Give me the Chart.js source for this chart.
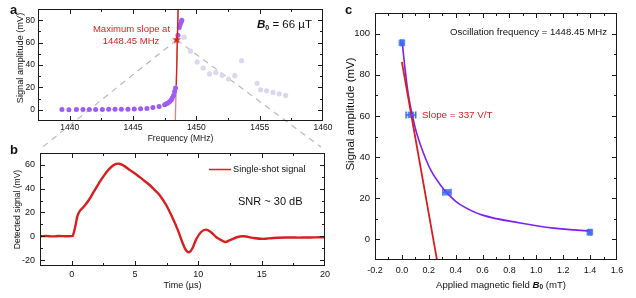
<!DOCTYPE html>
<html><head><meta charset="utf-8">
<script src="https://cdn.jsdelivr.net/npm/chart.js@4.4.1/dist/chart.umd.min.js"></script>
<style>
html,body{margin:0;padding:0;background:#fff;}
#wrap{position:relative;width:636px;height:298px;overflow:hidden;background:#fff;}
canvas{position:absolute;}
</style></head><body>
<div id="wrap">
<canvas id="ca" width="336" height="150" style="left:0;top:0"></canvas>
<canvas id="cb" width="336" height="158" style="left:0;top:140px"></canvas>
<canvas id="cc" width="306" height="298" style="left:330px;top:0"></canvas>
</div>
<script>
// ---------------- DATA ----------------
// Panel a: oscillation amplitude vs frequency
const freqBright = [1439.39,1439.94,1440.53,1441.05,1441.55,1442.05,1442.58,1443.08,1443.58,1444.08,1444.6,1445.1,1445.6,1446.1,1446.57,1447.06,1447.5,1447.63,1447.76,1447.9,1448.03,1448.1,1448.2,1448.28,1448.36,1448.55,1448.65,1448.72,1448.8,1448.85];
const ampBright  = [0.2,0.1,0.2,0.3,0.3,0.2,0.3,0.4,0.4,0.5,0.6,0.7,0.9,1.2,2.0,3.0,4.5,5.4,6.0,7.5,9.0,10.5,12.8,16.4,19.4,66.5,73.5,76,78.5,80];
const freqFaint  = [1449.03,1449.54,1450.06,1450.54,1451.04,1451.54,1452.04,1452.54,1453.04,1453.57,1454.8,1455.07,1455.55,1456.05,1456.54,1457.05];
const ampFaint   = [64.8,52.3,42.7,37.3,32,33.2,30.8,27.5,30.5,43.9,23.6,17.9,17,15.5,14.3,12.8];
const slopeFreqA = [1448.34,1448.56];
const slopeAmpA  = [-10,90];
const slopeDarkFreqA = [1448.42,1448.56];
const slopeDarkAmpA  = [22,90];
const starFreq = [1448.45];
const starAmp  = [62.5];
const zoomLeftFreq  = [1448.45,1437.78];
const zoomLeftAmp   = [62.5,-34];
const zoomRightFreq = [1448.45,1459.84];
const zoomRightAmp  = [62.5,-33.2];
const freqTicks = [1440,1445,1450,1455,1460];
const freqMinor = [1442.5,1447.5,1452.5,1457.5];
const ampTicksA = [0,20,40,60,80];
const ampMinorA = [10,30,50,70];

// Panel b: single-shot signal
const timeUs = [-2.5,-2,-1.5,-1,-0.5,0,0.1,0.32,0.45,0.66,0.97,1.37,1.76,2.16,2.55,2.95,3.34,3.74,4.13,4.6,5.13,5.6,6.13,6.5,6.92,7.45,7.97,8.37,8.76,9.03,9.29,9.55,9.82,10.2,10.6,11.0,11.4,11.7,12.1,12.5,13.1,13.6,14.3,15.1,15.9,16.9,18.2,19.2,20];
const signalMv = [0,0.2,-0.1,0.2,0,0.1,0.5,9.8,16.8,21.5,25,30.7,37.7,44.7,51,56.4,60,61,59.2,55.6,51.7,47.8,43.3,39.5,34.9,26.5,15.4,5.6,-5.6,-11.7,-13.4,-9.8,-2.8,3.4,5.6,3.4,-0.6,-2.6,-4.8,-3.3,-0.6,0,-1.4,-2.2,-1.4,-1.1,-1.1,-0.9,-0.8];
const timeTicks = [0,5,10,15,20];
const timeMinor = [2.5,7.5,12.5,17.5];
const sigTicks = [-20,0,20,40,60];
const sigMinor = [-10,10,30,50];

// Panel c: amplitude vs applied field
const fieldMt  = [0,0.067,0.335,1.398];
const fieldErr = [0.008,0.036,0.03,0.008];
const ampC     = [95.5,60.5,22.9,3.5];
const fitField = [0.003,0.025,0.05,0.08,0.11,0.16,0.22,0.285,0.347,0.434,0.6,0.88,1.13,1.4];
const fitAmp   = [95.5,82,69.5,59.7,51.6,42,33,26.6,21.8,16.9,11.8,8.0,5.5,4.0];
const slopeFieldC = [0,0.261];
const slopeAmpC   = [86.3,-10];
const fieldTicks = [-0.2,0,0.2,0.4,0.6,0.8,1.0,1.2,1.4,1.6];
const fieldMinor = [-0.1,0.1,0.3,0.5,0.7,0.9,1.1,1.3,1.5];
const ampTicksC = [0,20,40,60,80,100];
const ampMinorC = [10,30,50,70,90];

// ---------------- HELPERS ----------------
const FONT = '"Liberation Sans", Arial, Helvetica, sans-serif';
const pts = (xs, ys) => xs.map((x, i) => ({x, y: ys[i]}));
const RED = '#d81e1e';

function starImage(size, color) {
  const c = document.createElement('canvas'); c.width = c.height = size;
  const g = c.getContext('2d'); g.fillStyle = color; g.beginPath();
  const cx = size / 2, cy = size / 2, R = size / 2, r = R * 0.42;
  for (let i = 0; i < 10; i++) {
    const ang = -Math.PI / 2 + i * Math.PI / 5, rr = i % 2 ? r : R;
    g.lineTo(cx + rr * Math.cos(ang), cy + rr * Math.sin(ang));
  }
  g.closePath(); g.fill(); return c;
}

function framePlugin(o) {
  return {
    id: 'frame',
    afterDatasetsDraw(chart) {
      const {ctx, chartArea: a} = chart; const sx = chart.scales.x, sy = chart.scales.y;
      ctx.save(); ctx.strokeStyle = '#1a1a1a'; ctx.lineWidth = 1;
      const L = Math.round(a.left) + 0.5, R = Math.round(a.right) - 0.5, T = Math.round(a.top) + 0.5, B = Math.round(a.bottom) - 0.5;
      ctx.strokeRect(L, T, R - L, B - T);
      ctx.beginPath();
      const tx = (vals, len) => vals.forEach(v => { const p = Math.round(sx.getPixelForValue(v)) + 0.5; if (p < L - 0.2 || p > R + 0.2) return; ctx.moveTo(p, B); ctx.lineTo(p, B - len); ctx.moveTo(p, T); ctx.lineTo(p, T + len); });
      const ty = (vals, len) => vals.forEach(v => { const p = Math.round(sy.getPixelForValue(v)) + 0.5; if (p < T - 0.2 || p > B + 0.2) return; ctx.moveTo(L, p); ctx.lineTo(L + len, p); ctx.moveTo(R, p); ctx.lineTo(R - len, p); });
      tx(o.xMajor, 4.5); tx(o.xMinor, 2.5); ty(o.yMajor, 4.5); ty(o.yMinor, 2.5);
      ctx.stroke(); ctx.restore();
    }
  };
}

// rich text: parts [{t, font, dy, color}]
function drawRich(ctx, parts, x, y, align) {
  ctx.save(); ctx.textBaseline = 'middle'; ctx.textAlign = 'left';
  let w = 0; parts.forEach(p => { ctx.font = p.font; w += ctx.measureText(p.t).width; });
  let cx = align === 'center' ? x - w / 2 : align === 'right' ? x - w : x;
  parts.forEach(p => { ctx.font = p.font; ctx.fillStyle = p.color || '#111'; ctx.fillText(p.t, cx, y + (p.dy || 0)); cx += ctx.measureText(p.t).width; });
  ctx.restore();
}
function drawVertical(ctx, text, font, x, y) {
  ctx.save(); ctx.translate(x, y); ctx.rotate(-Math.PI / 2);
  ctx.font = font; ctx.fillStyle = '#111'; ctx.textAlign = 'center'; ctx.textBaseline = 'middle';
  ctx.fillText(text, 0, 0); ctx.restore();
}

function textPlugin(fn) { return {id: 'texts', afterDraw(chart) { fn(chart.ctx, chart); }}; }

function axis(min, max, ticks, fixed, size, pad, fmt, title, titlePad, isX) {
  const o = {
    type: 'linear', min, max,
    afterBuildTicks: s => { s.ticks = ticks.map(v => ({value: v})); },
    afterFit: s => { if (isX) s.height = fixed; else s.width = fixed; },
    grid: {display: false, drawTicks: false}, border: {display: false},
    ticks: {font: {family: FONT, size}, color: '#111', padding: pad, maxRotation: 0, autoSkip: false, callback: fmt},
    title: title ? {display: true, text: title.text, font: {family: FONT, size: title.size}, color: '#111', padding: titlePad} : {display: false}
  };
  return o;
}

const common = {responsive: false, animation: false, devicePixelRatio: 1, events: [],
  plugins: {legend: {display: false}, tooltip: {enabled: false}}};

// ---------------- PANEL A ----------------
const star = starImage(9, RED);
new Chart(document.getElementById('ca'), {
  type: 'scatter',
  data: {datasets: [
    {data: pts(zoomLeftFreq, zoomLeftAmp), showLine: true, borderColor: '#b9b9b9', borderWidth: 1.2, borderDash: [6, 5], pointRadius: 0, clip: false, order: 7},
    {data: pts(zoomRightFreq, zoomRightAmp), showLine: true, borderColor: '#b9b9b9', borderWidth: 1.2, borderDash: [6, 5], pointRadius: 0, clip: false, order: 7},
    {data: pts(freqFaint, ampFaint), pointRadius: 2.6, pointBackgroundColor: '#dcd6ef', pointBorderWidth: 0, order: 6},
    {data: pts(slopeFreqA, slopeAmpA), showLine: true, borderColor: '#ef7b7b', borderWidth: 1.3, pointRadius: 0, order: 5},
    {data: pts(freqBright, ampBright), pointRadius: 2.5, pointBackgroundColor: '#9d5cf6', pointBorderWidth: 0, order: 4},
    {data: pts(slopeDarkFreqA, slopeDarkAmpA), showLine: true, borderColor: RED, borderWidth: 1.3, pointRadius: 0, order: 3},
    {data: pts(starFreq, starAmp), pointStyle: star, pointRadius: 4.5, order: 1}
  ]},
  options: Object.assign({}, common, {
    layout: {padding: {top: 9, right: 13, left: 0, bottom: 0}},
    scales: {
      x: axis(1437.5, 1460, freqTicks, 29, 8.5, 2, v => String(v), {text: 'Frequency (MHz)', size: 8.5}, {top: 0, bottom: 6}, true),
      y: axis(-10, 90, ampTicksA, 38, 8.5, 3, v => String(v), null, null, false)
    }
  }),
  plugins: [framePlugin({xMajor: freqTicks, xMinor: freqMinor, yMajor: ampTicksA, yMinor: ampMinorA}),
    textPlugin(ctx => {
      drawVertical(ctx, 'Signal amplitude (mV)', '9.2px ' + FONT, 20.5, 58);
      ctx.save();
      ctx.fillStyle = '#111'; ctx.font = 'bold 13px ' + FONT; ctx.textBaseline = 'middle'; ctx.fillText('a', 10, 10);
      ctx.fillStyle = RED; ctx.font = '9.5px ' + FONT; ctx.textAlign = 'center';
      ctx.fillText('Maximum slope at', 131.5, 29.5); ctx.fillText('1448.45 MHz', 131, 41.5);
      ctx.restore();
      drawRich(ctx, [{t: 'B', font: 'bold italic 11.5px ' + FONT}, {t: '0', font: 'bold 7px ' + FONT, dy: 3}, {t: ' = 66 \u00b5T', font: '11.5px ' + FONT}], 257, 25, 'left');
    })]
});

// ---------------- PANEL B ----------------
new Chart(document.getElementById('cb'), {
  type: 'scatter',
  data: {datasets: [
    {data: pts(timeUs, signalMv), showLine: true, borderColor: RED, borderWidth: 2.4, pointRadius: 0, tension: 0.35}
  ]},
  options: Object.assign({}, common, {
    layout: {padding: {top: 13, right: 11, left: 0, bottom: 0}},
    scales: {
      x: axis(-2.5, 20, timeTicks, 32, 9, 3, v => String(v), {text: 'Time (\u00b5s)', size: 9}, {top: 0, bottom: 7}, true),
      y: axis(-25, 70, sigTicks, 40, 9, 5, v => String(v), {text: 'Detected signal (mV)', size: 8.5}, {top: 13, bottom: 0}, false)
    }
  }),
  plugins: [framePlugin({xMajor: timeTicks, xMinor: timeMinor, yMajor: sigTicks, yMinor: sigMinor}),
    textPlugin(ctx => {
      ctx.save();
      ctx.fillStyle = '#111'; ctx.font = 'bold 13px ' + FONT; ctx.textBaseline = 'middle'; ctx.fillText('b', 10, 10);
      ctx.strokeStyle = RED; ctx.lineWidth = 1.5; ctx.beginPath(); ctx.moveTo(209, 29.5); ctx.lineTo(231, 29.5); ctx.stroke();
      ctx.font = '9.2px ' + FONT; ctx.fillText('Single-shot signal', 233, 29.5);
      ctx.font = '11px ' + FONT; ctx.fillText('SNR ~ 30 dB', 238, 61.7);
      ctx.restore();
    })]
});

// ---------------- PANEL C ----------------
const errPlugin = {
  id: 'errbars',
  afterDatasetsDraw(chart) {
    const {ctx} = chart; const sx = chart.scales.x, sy = chart.scales.y;
    ctx.save(); ctx.strokeStyle = '#3d6cf0'; ctx.lineWidth = 1.5; ctx.beginPath();
    fieldMt.forEach((f, i) => {
      const y = sy.getPixelForValue(ampC[i]);
      const x0 = sx.getPixelForValue(f - fieldErr[i]), x1 = sx.getPixelForValue(f + fieldErr[i]);
      ctx.moveTo(x0, y); ctx.lineTo(x1, y);
      ctx.moveTo(x0, y - 3.5); ctx.lineTo(x0, y + 3.5); ctx.moveTo(x1, y - 3.5); ctx.lineTo(x1, y + 3.5);
    });
    ctx.stroke(); ctx.restore();
  }
};
new Chart(document.getElementById('cc'), {
  type: 'scatter',
  data: {datasets: [
    {data: pts(fieldMt, ampC), pointStyle: 'rect', pointRadius: 4.6, pointBackgroundColor: 'rgba(66,110,242,0.85)', pointBorderWidth: 0, order: 3},
    {data: pts(fitField, fitAmp), showLine: true, borderColor: '#7a22f0', borderWidth: 1.6, pointRadius: 0, tension: 0.4, order: 2},
    {data: pts(slopeFieldC, slopeAmpC), showLine: true, borderColor: RED, borderWidth: 1.8, pointRadius: 0, order: 1}
  ]},
  options: Object.assign({}, common, {
    layout: {padding: {top: 13, right: 19, left: 0, bottom: 0}},
    scales: {
      x: axis(-0.2, 1.6, fieldTicks, 38, 9, 5, v => v.toFixed(1), null, null, true),
      y: axis(-10, 110, ampTicksC, 45, 9.5, 5, v => String(v), null, null, false)
    }
  }),
  plugins: [errPlugin, framePlugin({xMajor: fieldTicks, xMinor: fieldMinor, yMajor: ampTicksC, yMinor: ampMinorC}),
    textPlugin((ctx, chart) => {
      drawVertical(ctx, 'Signal amplitude (mV)', '11.5px ' + FONT, 21, 114);
      ctx.save();
      ctx.fillStyle = '#111'; ctx.font = 'bold 13px ' + FONT; ctx.textBaseline = 'middle'; ctx.fillText('c', 15, 10);
      ctx.font = '9.6px ' + FONT; ctx.textAlign = 'right'; ctx.fillText('Oscillation frequency = 1448.45 MHz', 277, 32);
      ctx.textAlign = 'left'; ctx.fillStyle = RED; ctx.font = '9.8px ' + FONT; ctx.fillText('Slope = 337 V/T', 92, 115);
      ctx.restore();
      const a = chart.chartArea;
      drawRich(ctx, [{t: 'Applied magnetic field ', font: '9.6px ' + FONT}, {t: 'B', font: 'bold italic 9.6px ' + FONT}, {t: '0', font: 'bold 6.5px ' + FONT, dy: 2.5}, {t: ' (mT)', font: '9.6px ' + FONT}], (a.left + a.right) / 2 + 5, 285, 'center');
    })]
});
</script>
</body></html>
